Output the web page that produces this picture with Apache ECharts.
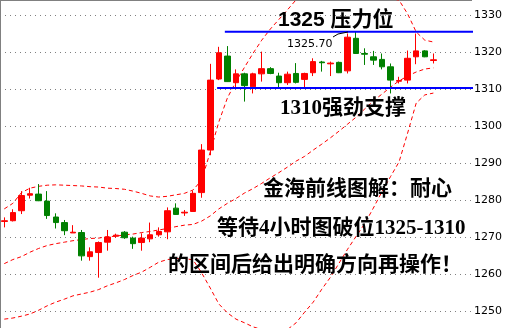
<!DOCTYPE html>
<html><head><meta charset="utf-8">
<script src="https://cdn.jsdelivr.net/npm/echarts@6/dist/echarts.min.js"></script>
<style>html,body{margin:0;padding:0;background:#fff}#c{width:519px;height:328px}</style>
</head><body><div id="c"></div>
<script>
const categories = Array.from({length: 55}, (_, i) => 'K' + (i + 1));
const opens  = [1274.2,1274.4,1277.1,1281.3,1281.6,1279.7,1275.4,1273.9,1271.1,1271.2,
                1264.7,1265.8,1268.6,1270.2,1271.3,1269.7,1268.5,1269.5,1270.6,1271.4,
                1277.8,1276.5,1276.9,1282.0,1293.5,1312.7,1318.9,1311.7,1314.1,1310.6,
                1314.1,1315.5,1313.5,1311.7,1314.2,1312.6,1314.4,1317.3,1316.8,1317.2,
                1314.9,1323.7,1319.6,1318.7,1318.0,1316.0,1312.1,1312.4,1318.7,1320.3,1317.7];
const closes = [1274.4,1276.6,1281.2,1281.7,1279.8,1275.8,1273.9,1271.7,1271.3,1264.9,
                1266.0,1268.5,1270.0,1270.5,1269.8,1268.2,1269.7,1270.6,1271.5,1277.1,
                1276.1,1276.7,1281.8,1293.5,1312.4,1319.8,1312.0,1314.1,1310.9,1314.1,
                1315.5,1314.2,1311.7,1314.0,1311.8,1314.2,1317.4,1317.1,1317.0,1314.4,
                1324.0,1319.6,1319.4,1317.8,1316.0,1312.4,1312.3,1318.3,1320.3,1318.7,1317.9];
const lows   = [1272.6,1274.2,1276.2,1280.4,1279.7,1274.9,1272.3,1270.5,1271.1,1263.6,
                1263.6,1259.0,1266.3,1269.8,1269.5,1266.8,1266.3,1268.6,1270.1,1269.4,
                1276.0,1275.7,1276.8,1280.6,1292.1,1312.4,1311.9,1310.5,1306.6,1308.8,
                1312.0,1314.0,1310.5,1311.1,1311.5,1310.2,1313.5,1314.7,1313.5,1314.3,
                1314.2,1319.5,1316.5,1316.5,1315.3,1308.8,1311.5,1311.5,1316.7,1318.6,1316.9];
const highs  = [1275.3,1277.5,1282.4,1283.3,1284.3,1282.4,1276.4,1274.6,1273.2,1271.9,
                1267.2,1268.8,1271.9,1270.9,1271.6,1270.1,1271.0,1273.9,1272.6,1278.0,
                1279.1,1277.3,1282.5,1295.1,1316.8,1321.4,1321.6,1315.3,1314.4,1314.4,
                1320.1,1315.9,1314.4,1314.7,1317.0,1314.4,1318.3,1317.6,1317.4,1317.4,
                1325.0,1325.5,1321.0,1320.3,1319.6,1316.9,1313.3,1320.4,1325.0,1320.5,1319.6];
const upperBand  = [1277.6,1279.1,1282.0,1283.2,1283.7,1284.0,1284.1,1284.0,1283.9,1283.8,
                    1283.6,1283.5,1283.2,1283.1,1282.9,1282.4,1281.8,1281.1,1280.8,1281.0,
                    1281.4,1281.8,1282.7,1285.4,1293.0,1301.1,1307.6,1312.0,1315.9,1319.7,
                    1323.2,1326.2,1328.8,1331.4,1334.1,1334.6,1335.0,1335.3,1335.5,1335.6,
                    1335.6,1335.5,1335.4,1335.2,1334.9,1334.5,1334.0,1330.3,1325.4,1323.2,1322.7];
const middleBand = [1262.8,1263.9,1264.7,1265.9,1266.9,1267.7,1268.2,1268.6,1269.0,1269.3,
                    1269.6,1269.7,1270.1,1270.2,1270.6,1270.8,1271.2,1271.5,1271.9,1272.3,
                    1272.8,1273.2,1273.4,1274.3,1275.7,1277.6,1279.1,1280.4,1281.9,1283.1,
                    1284.5,1286.0,1287.4,1288.9,1290.5,1291.8,1293.5,1295.1,1296.8,1298.6,
                    1300.5,1302.4,1304.6,1306.8,1308.6,1310.5,1312.2,1313.5,1314.6,1315.4,1315.7];
const lowerBand  = [1247.8,1248.1,1248.6,1249.2,1250.2,1251.4,1252.4,1253.2,1254.1,1254.6,
                    1255.1,1255.8,1256.8,1257.6,1258.5,1259.6,1260.5,1261.8,1263.2,1263.9,
                    1264.2,1264.2,1263.8,1260.3,1256.2,1251.9,1249.5,1247.8,1246.8,1245.7,
                    1245.0,1244.7,1244.7,1245.0,1246.8,1249.7,1252.4,1255.9,1259.1,1262.9,
                    1266.7,1270.2,1273.6,1277.8,1282.2,1286.3,1290.3,1298.1,1306.2,1308.4,1308.9];
const levelValues = [1325.5, 1310.3];
const levelFrom   = [26.2, 25.3];
const levelTo     = [55.35, 56.75];
const yMin = 1240, yMax = 1340, yStep = 10;

const chart = echarts.init(document.getElementById('c'), null, {renderer: 'canvas'});
const candleData = opens.map((o, i) => [o, closes[i], lows[i], highs[i]]);
const bandStyle = {color: '#ff0000', width: 1, type: [4, 3]};
const lineSeries = (d) => ({type: 'line', xAxisIndex: 0, data: d, symbol: 'none', silent: true,
  lineStyle: bandStyle, z: 3, animation: false});
const levelSeries = levelValues.map((v, k) => ({
  type: 'line', xAxisIndex: 1, data: [[levelFrom[k], v], [levelTo[k], v]], clip: false,
  symbol: 'none', silent: true, lineStyle: {color: '#0000ff', width: 2}, z: 5
}));
const txt = (t, x, y, font) => ({type: 'text', x: x, y: y, z: 10,
  style: {text: t, font: font, fill: '#000', textAlign: 'left', textVerticalAlign: 'middle',
          align: 'left', verticalAlign: 'middle'}});
const CJK = '"Noto Sans CJK SC"';
chart.setOption({
  animation: false,
  backgroundColor: '#fff',
  grid: {left: 0, right: 47, top: -22, height: 370, containLabel: false, outerBoundsMode: 'none'},
  xAxis: [
    {type: 'category', data: categories, boundaryGap: true, show: false},
    {type: 'value', min: 0, max: categories.length, show: false}
  ],
  yAxis: {
    type: 'value', position: 'right', min: yMin, max: yMax, interval: yStep, scale: true,
    axisLine: {show: true, lineStyle: {color: '#808080', width: 1}},
    axisTick: {show: false},
    axisLabel: {color: '#000', fontSize: 11, fontFamily: '"DejaVu Sans"', margin: 2,
                verticalAlign: 'middle', padding: [6, 0, 0, 0], formatter: (v) => String(v)},
    splitLine: {show: true, lineStyle: {color: '#808080', width: 1, type: [1, 4]}}
  },
  series: [
    {type: 'candlestick', xAxisIndex: 0, data: candleData, barWidth: 6, z: 4,
     itemStyle: {color: '#ff0000', color0: '#008000', borderColor: '#ff0000',
                 borderColor0: '#008000', borderWidth: 1}},
    lineSeries(upperBand), lineSeries(middleBand), lineSeries(lowerBand)
  ].concat(levelSeries),
  graphic: [
    {type: 'line', shape: {x1: 0, y1: 0.5, x2: 472, y2: 0.5}, style: {stroke: '#808080', lineWidth: 1}},
    txt('1325 压力位', 278, 20, 'bold 21px "Liberation Sans", ' + CJK),
    txt('1325.70', 287, 44, '11px "DejaVu Sans"'),
    {type: 'polyline', z: 10, shape: {points: [[333, 37], [338, 34], [348, 32]]},
     style: {stroke: '#000', lineWidth: 1, fill: null}},
    txt('1310强劲支撑', 280, 109, 'bold 21px "Liberation Serif", ' + CJK),
    txt('金海前线图解：耐心', 263, 190, 'bold 21px "Liberation Serif", ' + CJK),
    txt('等待4小时图破位1325-1310', 217, 229, 'bold 21px "Liberation Serif", ' + CJK),
    txt('的区间后给出明确方向再操作！', 168, 266, 'bold 21px "Liberation Serif", ' + CJK)
  ]
});
</script></body></html>
